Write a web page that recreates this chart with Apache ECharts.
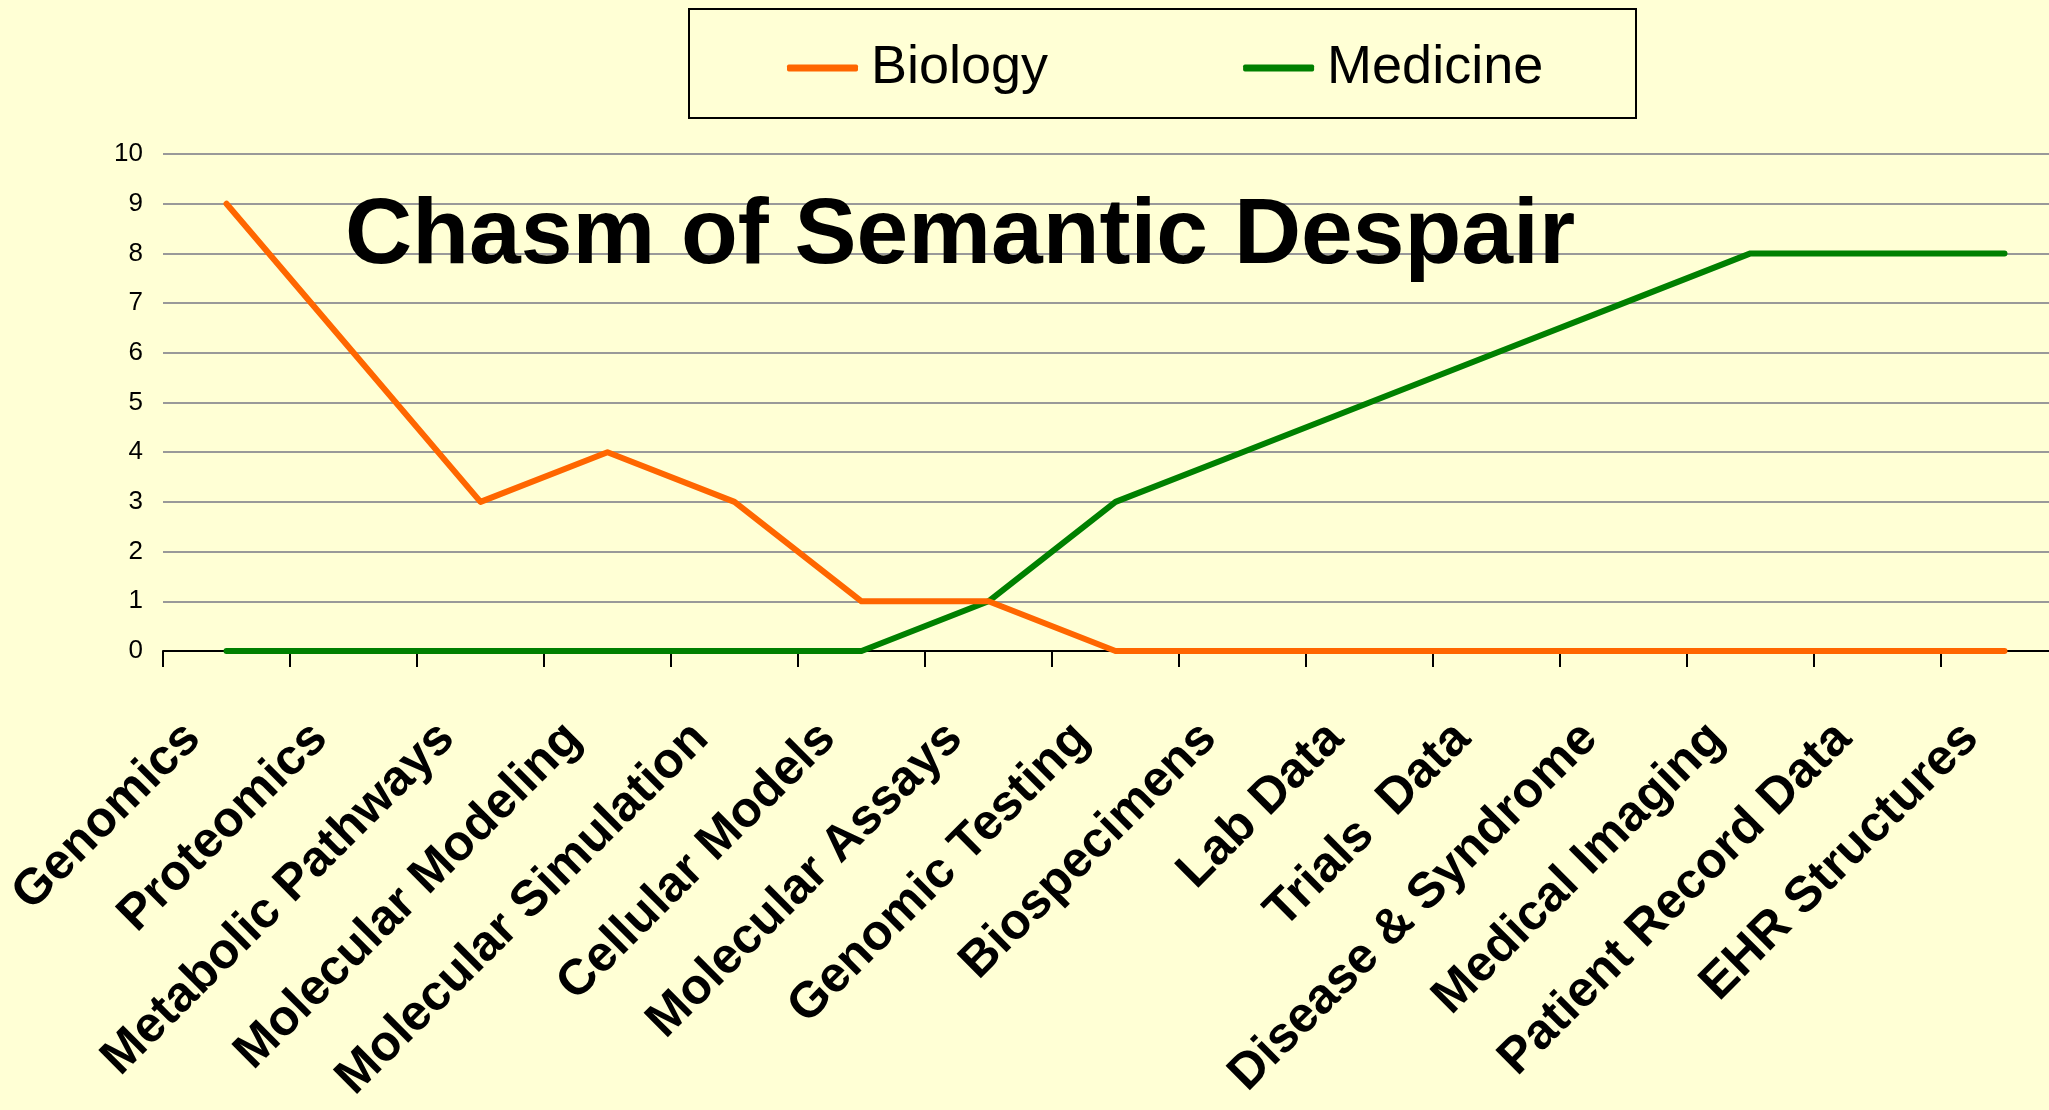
<!DOCTYPE html>
<html>
<head>
<meta charset="utf-8">
<title>Chasm of Semantic Despair</title>
<script src="https://cdn.jsdelivr.net/npm/echarts@6/dist/echarts.min.js"></script>
<style>
  html, body { margin: 0; padding: 0; background: #FFFFD5; }
  #chart { width: 2049px; height: 1110px; }
</style>
</head>
<body>
<div id="chart"></div>
<script>
// categories along the x axis
const categories = [
  'Genomics', 'Proteomics', 'Metabolic Pathways', 'Molecular Modeling', 'Molecular Simulation',
  'Cellular Models', 'Molecular Assays', 'Genomic Testing', 'Biospecimens', 'Lab Data',
  'Trials  Data', 'Disease & Syndrome', 'Medical Imaging', 'Patient Record Data', 'EHR Structures'
]
const biology = [9, 6, 3, 4, 3, 1, 1, 0, 0, 0, 0, 0, 0, 0, 0]
const medicine = [0, 0, 0, 0, 0, 0, 1, 3, 4, 5, 6, 7, 8, 8, 8]
const yTicks = [0, 10, 1] // min, max, interval

const chart = echarts.init(document.getElementById('chart'), null, { renderer: 'canvas' })

const option = {
  backgroundColor: '#FFFFD5',
  animation: false,
  textStyle: { fontFamily: 'Liberation Sans, Arial, sans-serif' },
  title: {
    text: 'Chasm of Semantic Despair',
    left: 345,
    top: 187,
    padding: 0,
    textStyle: { fontSize: 93, fontWeight: 'bold', color: '#000', lineHeight: 100 }
  },
  legend: {
    left: 787,
    top: 38,
    padding: 0,
    icon: 'roundRect',
    itemWidth: 71,
    itemHeight: 7,
    itemGap: 195,
    textStyle: { fontSize: 54, color: '#000', lineHeight: 60, padding: [0, 0, 0, 8] },
    data: ['Biology', 'Medicine']
  },
  graphic: [
    { // legend frame
      type: 'rect',
      shape: { x: 689, y: 9, width: 947, height: 109 },
      style: { fill: 'none', stroke: '#000', lineWidth: 2 },
      z: 1
    }
  ],
  grid: {
    left: 163,
    right: -19,
    top: 154,
    bottom: 459,
    outerBoundsMode: 'none',
    containLabel: false
  },
  xAxis: {
    type: 'category',
    data: categories,
    boundaryGap: true,
    axisLine: { show: true, lineStyle: { color: '#000', width: 2 } },
    axisTick: { show: true, length: 16, lineStyle: { color: '#000', width: 2 } },
    axisLabel: {
      interval: 0,
      rotate: 45,
      margin: 46,
      padding: [0, 48, 0, 0],
      fontSize: 50,
      fontWeight: 'bold',
      color: '#000'
    },
    splitLine: { show: false }
  },
  yAxis: {
    type: 'value',
    min: yTicks[0],
    max: yTicks[1],
    interval: yTicks[2],
    axisLine: { show: false },
    axisTick: { show: false },
    axisLabel: { fontSize: 26, color: '#000', margin: 20 },
    splitLine: { show: true, lineStyle: { color: '#999999', width: 2 } }
  },
  series: [
    {
      name: 'Biology',
      type: 'line',
      data: biology,
      symbol: 'none',
      color: '#FF6600',
      lineStyle: { color: '#FF6600', width: 6, cap: 'round', join: 'round' },
      z: 3
    },
    {
      name: 'Medicine',
      type: 'line',
      data: medicine,
      symbol: 'none',
      color: '#008000',
      lineStyle: { color: '#008000', width: 6, cap: 'round', join: 'round' },
      z: 2
    }
  ]
}

chart.setOption(option)
</script>
</body>
</html>
